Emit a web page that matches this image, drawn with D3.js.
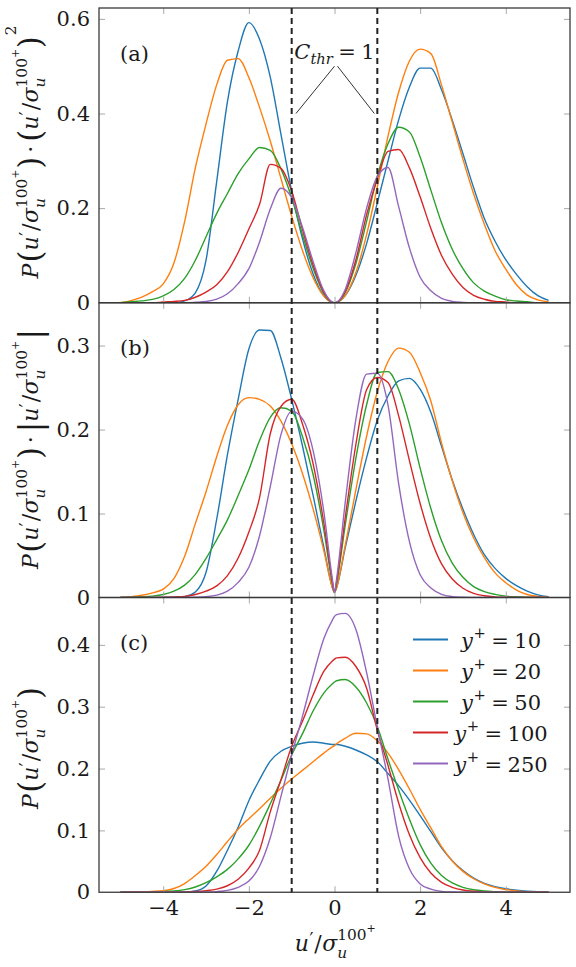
<!DOCTYPE html>
<html><head><meta charset="utf-8">
<script src="https://cdn.jsdelivr.net/npm/d3@7"></script>
<style>
body{margin:0;background:#fff;}
svg text{font-family:'DejaVu Serif','Liberation Serif',serif;}
</style></head>
<body><svg id="chart" width="576" height="967"></svg>
<script>
// ---------------- data ----------------
const xs = [-5,-4.75,-4.5,-4.25,-4,-3.75,-3.5,-3.25,-3,-2.75,-2.5,-2.25,-2,-1.75,-1.5,-1.25,-1,-0.75,-0.5,-0.25,-0.05,0,0.05,0.25,0.5,0.75,1,1.25,1.5,1.75,2,2.25,2.5,2.75,3,3.25,3.5,3.75,4,4.25,4.5,4.75,5];
const seriesNames = ["10","20","50","100","250"];
const seriesColors = ["#1f77b4","#ff7f0e","#2ca02c","#d62728","#9467bd"];

// panel (c): P(u'/sigma)
const pdf10  = [0,0,0,0,0,0,0.0003,0.002,0.010,0.034,0.068,0.105,0.148,0.182,0.212,0.228,0.236,0.241,0.243,0.241,0.239,0.239,0.239,0.236,0.230,0.222,0.211,0.192,0.172,0.149,0.124,0.098,0.072,0.051,0.035,0.023,0.0145,0.0092,0.0057,0.0033,0.0017,0.0007,0.0002];
const pdf20  = [0,0.0002,0.0006,0.0013,0.0025,0.006,0.014,0.027,0.042,0.061,0.082,0.102,0.119,0.135,0.152,0.168,0.183,0.197,0.211,0.225,0.235,0.237,0.240,0.249,0.257,0.256,0.245,0.225,0.198,0.167,0.134,0.104,0.0736,0.0505,0.0337,0.0218,0.0136,0.0078,0.0044,0.0021,0.0008,0.0003,0.0001];
const pdf50  = [0,0.0001,0.0002,0.0004,0.0009,0.002,0.0042,0.0085,0.0155,0.025,0.037,0.054,0.076,0.107,0.143,0.181,0.222,0.256,0.293,0.322,0.337,0.340,0.342,0.344,0.332,0.306,0.268,0.215,0.165,0.118,0.077,0.047,0.027,0.015,0.008,0.004,0.002,0.001,0.0004,0.0002,0.0001,0,0];
const pdf100 = [0,0,0,0,0.0001,0.0002,0.0004,0.0011,0.0025,0.005,0.0105,0.021,0.039,0.068,0.130,0.182,0.236,0.276,0.319,0.357,0.374,0.377,0.379,0.380,0.365,0.330,0.262,0.205,0.144,0.093,0.056,0.031,0.016,0.008,0.0036,0.0015,0.0006,0.0002,0.0001,0,0,0,0];
const pdf250 = [0,0,0,0,0,0,0,0.0001,0.0003,0.001,0.003,0.008,0.018,0.042,0.088,0.155,0.222,0.284,0.350,0.410,0.440,0.446,0.449,0.451,0.425,0.355,0.267,0.183,0.090,0.038,0.0135,0.005,0.0015,0.0004,0.0001,0,0,0,0,0,0,0,0];

// panel (a): P * (u'/sigma)^2
const sq10  = [0,0,0,0,0,0,0.004,0.021,0.090,0.257,0.425,0.532,0.592,0.557,0.477,0.356,0.236,0.136,0.061,0.015,0.0006,0,0.0006,0.015,0.058,0.125,0.211,0.300,0.387,0.456,0.496,0.496,0.450,0.386,0.315,0.243,0.178,0.130,0.091,0.060,0.034,0.015,0.005];
const sq20  = [0,0.0045,0.012,0.0235,0.040,0.084,0.1715,0.285,0.378,0.461,0.5125,0.516,0.476,0.413,0.342,0.2625,0.183,0.111,0.053,0.014,0.0006,0,0.0006,0.0156,0.064,0.144,0.245,0.352,0.4455,0.511,0.536,0.5265,0.460,0.382,0.303,0.230,0.166,0.110,0.071,0.038,0.016,0.006,0.0015];
const sq50  = [0,0.002,0.004,0.007,0.0144,0.028,0.0515,0.0898,0.1395,0.189,0.231,0.273,0.304,0.328,0.322,0.283,0.222,0.144,0.073,0.020,0.0008,0,0.0009,0.0215,0.083,0.172,0.268,0.336,0.371,0.361,0.308,0.238,0.169,0.113,0.072,0.042,0.0245,0.014,0.0064,0.0036,0.002,0,0];
const sq100 = [0,0,0,0,0.0016,0.0028,0.0049,0.0116,0.0225,0.0378,0.0656,0.1063,0.156,0.208,0.2925,0.284,0.236,0.155,0.080,0.0223,0.0009,0,0.0009,0.0238,0.091,0.186,0.262,0.320,0.324,0.285,0.224,0.157,0.100,0.0605,0.0324,0.0158,0.0074,0.0028,0.0016,0,0,0,0];
const sq250 = [0,0,0,0,0,0,0,0.001,0.0027,0.0076,0.019,0.0405,0.072,0.1286,0.198,0.242,0.222,0.160,0.0875,0.0256,0.0011,0,0.0011,0.0282,0.106,0.200,0.267,0.286,0.2025,0.116,0.054,0.0253,0.0094,0.003,0.0009,0,0,0,0,0,0,0,0];

// panel (b): P * |u'/sigma|
const abs10  = [0,0,0,0,0,0,0.001,0.0065,0.030,0.0935,0.170,0.236,0.296,0.3185,0.318,0.285,0.236,0.181,0.1215,0.060,0.012,0.006,0.012,0.059,0.115,0.1665,0.211,0.240,0.258,0.261,0.248,0.2205,0.180,0.140,0.105,0.075,0.051,0.0347,0.0228,0.0141,0.0076,0.0032,0.001];
const abs20  = [0,0.001,0.0027,0.0055,0.010,0.0225,0.049,0.088,0.126,0.168,0.205,0.2295,0.238,0.236,0.228,0.210,0.183,0.148,0.1055,0.056,0.012,0.006,0.012,0.062,0.1285,0.192,0.245,0.281,0.297,0.292,0.268,0.234,0.184,0.139,0.101,0.0709,0.0474,0.0293,0.0176,0.0089,0.0036,0.0013,0.0003];
const abs50  = [0,0.0005,0.0009,0.0017,0.0036,0.0075,0.0147,0.0276,0.0465,0.069,0.0925,0.1215,0.152,0.187,0.2145,0.226,0.222,0.192,0.1465,0.0805,0.017,0.006,0.017,0.086,0.166,0.2295,0.268,0.269,0.2475,0.2065,0.154,0.106,0.0675,0.041,0.024,0.013,0.007,0.0037,0.0016,0.0009,0.0005,0,0];
const abs100 = [0,0,0,0,0.0004,0.0008,0.0014,0.0036,0.0075,0.0138,0.026,0.047,0.078,0.119,0.195,0.2275,0.236,0.207,0.1595,0.089,0.0187,0.006,0.019,0.095,0.1825,0.2475,0.262,0.256,0.216,0.163,0.112,0.070,0.040,0.022,0.011,0.0049,0.0021,0.0008,0.0004,0,0,0,0];
const abs250 = [0,0,0,0,0,0,0,0.0003,0.0009,0.0028,0.0075,0.018,0.036,0.0735,0.132,0.194,0.222,0.213,0.175,0.1025,0.022,0.006,0.0225,0.113,0.2125,0.266,0.267,0.229,0.135,0.0665,0.027,0.0113,0.0038,0.0011,0.0003,0,0,0,0,0,0,0,0];

const xTickValues = [-4,-2,0,2,4];
const yTicksA = [0,0.2,0.4,0.6];
const yTicksB = [0,0.1,0.2,0.3];
const yTicksC = [0,0.1,0.2,0.3,0.4];
const thresholds = [-1,1];
const panelLetters = ["(a)","(b)","(c)"];

// ---------------- layout ----------------
const FONT = "'DejaVu Serif', 'Liberation Serif', serif";
const TXT = '#1a1a1a';
const svg = d3.select('#chart');
const L = 99, R = 570;
const PH = 294.75;
const tops = [8, 8+PH, 8+2*PH];
const FS = 21;

const x = d3.scaleLinear().domain([-5.5,5.5]).range([L,R]);

const panels = [
  {ymax:0.623, ticks:yTicksA, series:[sq10,sq20,sq50,sq100,sq250]},
  {ymax:0.351, ticks:yTicksB, series:[abs10,abs20,abs50,abs100,abs250]},
  {ymax:0.4766, ticks:yTicksC, series:[pdf10,pdf20,pdf50,pdf100,pdf250]}
];

function mathText(parent, parts, size){
  const g = parent.append('g');
  let cx = 0, lastStart = 0, lastEnd = 0;
  parts.forEach(p=>{
    const fs = size*(p.s||1);
    const start = p.back ? lastStart : cx + (p.dx||0)*size;
    const t = g.append('text').attr('x', start).attr('y', -(p.r||0)*size)
      .style('font-family', FONT).attr('fill', TXT)
      .attr('font-size', fs).attr('font-style', p.i ? 'italic' : 'normal').text(p.t);
    const w = t.node().getComputedTextLength();
    const end = start + w;
    if (p.back) { cx = Math.max(lastEnd, end); }
    else { cx = end; lastStart = start; lastEnd = end; }
  });
  return {g, width: cx};
}

const frac = [
  {t:'u', i:1},
  {t:'\u2032', s:0.8, r:0.22, dx:0.02},
  {t:'/', dx:0.04},
  {t:'\u03c3', i:1, dx:0.02},
  {t:'u', i:1, s:0.7, r:-0.3},
  {t:'100', s:0.7, r:0.5, back:1},
  {t:'+', s:0.5, r:0.85}
];
const lp = {t:'(', s:1.4, r:-0.12, dx:0.06};
const rp = {t:')', s:1.4, r:-0.12, dx:0.03};
const titles = [
  [{t:'P',i:1}, lp, ...frac, rp, {t:'\u00b7', dx:0.18}, {t:'(', s:1.4, r:-0.12, dx:0.18}, ...frac, rp, {t:'2', s:0.7, r:1.0, dx:0.04}],
  [{t:'P',i:1}, lp, ...frac, rp, {t:'\u00b7', dx:0.18}, {t:'|', s:1.4, r:-0.12, dx:0.18}, ...frac, {t:'|', s:1.4, r:-0.12, dx:0.06}],
  [{t:'P',i:1}, lp, ...frac, rp]
];
const titleCenters = [152, 449, 748];

panels.forEach((p, k)=>{
  const top = tops[k], bottom = top + PH;
  const y = d3.scaleLinear().domain([0, p.ymax]).range([bottom, top]);
  const g = svg.append('g');
  const clipId = 'clip'+k;
  svg.append('clipPath').attr('id', clipId).append('rect')
    .attr('x', L).attr('y', top).attr('width', R-L).attr('height', PH);

  const line = d3.line().x((d,i)=>x(xs[i])).y(d=>y(d)).curve(d3.curveMonotoneX);
  const cg = g.append('g').attr('clip-path', `url(#${clipId})`);
  p.series.forEach((s, si)=>{
    cg.append('path').datum(s).attr('d', line)
      .attr('fill','none').attr('stroke', seriesColors[si]).attr('stroke-width', 1.4)
      .attr('stroke-linejoin','round');
  });

  // axes (inward ticks)
  const tickCol = '#a8a8a8';
  const axB = g.append('g').attr('transform', `translate(0,${bottom})`)
    .call(d3.axisBottom(x).tickValues(xTickValues).tickSize(-6).tickPadding(8)
      .tickFormat(k===2 ? d3.format('') : ''));
  const axT = g.append('g').attr('transform', `translate(0,${top})`)
    .call(d3.axisTop(x).tickValues(xTickValues).tickSize(-6).tickFormat(''));
  const axL = g.append('g').attr('transform', `translate(${L},0)`)
    .call(d3.axisLeft(y).tickValues(p.ticks).tickSize(-6).tickPadding(9)
      .tickFormat(d => d===0 ? '0' : d3.format('.1f')(d)));
  const axR = g.append('g').attr('transform', `translate(${R},0)`)
    .call(d3.axisRight(y).tickValues(p.ticks.filter(t=>t>0)).tickSize(-6).tickFormat(''));
  [axB, axT, axL, axR].forEach(a=>{
    a.attr('font-family', null);
    a.select('.domain').remove();
    a.selectAll('.tick line').attr('stroke', tickCol).attr('stroke-width', 1);
    a.selectAll('text').style('font-family', FONT).attr('font-size', FS).attr('fill', TXT);
  });
  axL.selectAll('.tick').filter(d=>d===0).select('line').remove();

  // panel letter
  g.append('text').attr('x', 120).attr('y', top + 52.5).attr('font-size', FS)
    .style('font-family', FONT).attr('fill', TXT).text(panelLetters[k]);

  // y title
  const tg = g.append('g');
  const mt = mathText(tg, titles[k], 22);
  tg.attr('transform', `translate(38,${titleCenters[k]}) rotate(-90) translate(${-mt.width/2},0)`);

  p.y = y;
});

// frames
tops.forEach(t=>{
  svg.append('rect').attr('x', L).attr('y', t).attr('width', R-L).attr('height', PH)
    .attr('fill','none').attr('stroke','#3a3a3a').attr('stroke-width', 1.3);
});

// threshold dashed lines
svg.append('g').selectAll('line').data(thresholds).join('line')
  .attr('x1', d=>x(d)).attr('x2', d=>x(d))
  .attr('y1', tops[0]).attr('y2', tops[2]+PH)
  .attr('stroke','#222').attr('stroke-width', 2).attr('stroke-dasharray','6,4');

// annotation C_thr = 1 in panel (a)
const ya = panels[0].y;
const annotLines = [[[0.0,0.5],[-0.9,0.4]],[[0.07,0.5],[0.93,0.4]]];
svg.append('g').selectAll('line').data(annotLines).join('line')
  .attr('x1', d=>x(d[0][0])).attr('y1', d=>ya(d[0][1]))
  .attr('x2', d=>x(d[1][0])).attr('y2', d=>ya(d[1][1]))
  .attr('stroke','#333').attr('stroke-width', 1);
const cg = svg.append('g');
const ct = mathText(cg, [{t:'C',i:1},{t:'thr',i:1,s:0.7,r:-0.25},{t:'=',dx:0.26},{t:'1',dx:0.26}], FS);
cg.attr('transform', `translate(${x(0.0)-ct.width/2},58.5)`);

// legend
const legX0 = 413, legX1 = 448, legTextC = 501, legY0 = 639.5, legStep = 31;
seriesNames.forEach((n, i)=>{
  const yy = legY0 + i*legStep;
  svg.append('line').attr('x1', legX0).attr('x2', legX1).attr('y1', yy).attr('y2', yy)
    .attr('stroke', seriesColors[i]).attr('stroke-width', 2);
  const lg = svg.append('g');
  const m = mathText(lg, [{t:'y',i:1},{t:'+',s:0.7,r:0.45,dx:0.03},{t:'=',dx:0.26},{t:n,dx:0.26}], FS);
  lg.attr('transform', `translate(${legTextC - m.width/2},${yy+8})`);
});

// x title
const xg = svg.append('g');
const xm = mathText(xg, frac, 22);
xg.attr('transform', `translate(${x(0.02)-xm.width/2},951)`);
</script>
</body></html>
